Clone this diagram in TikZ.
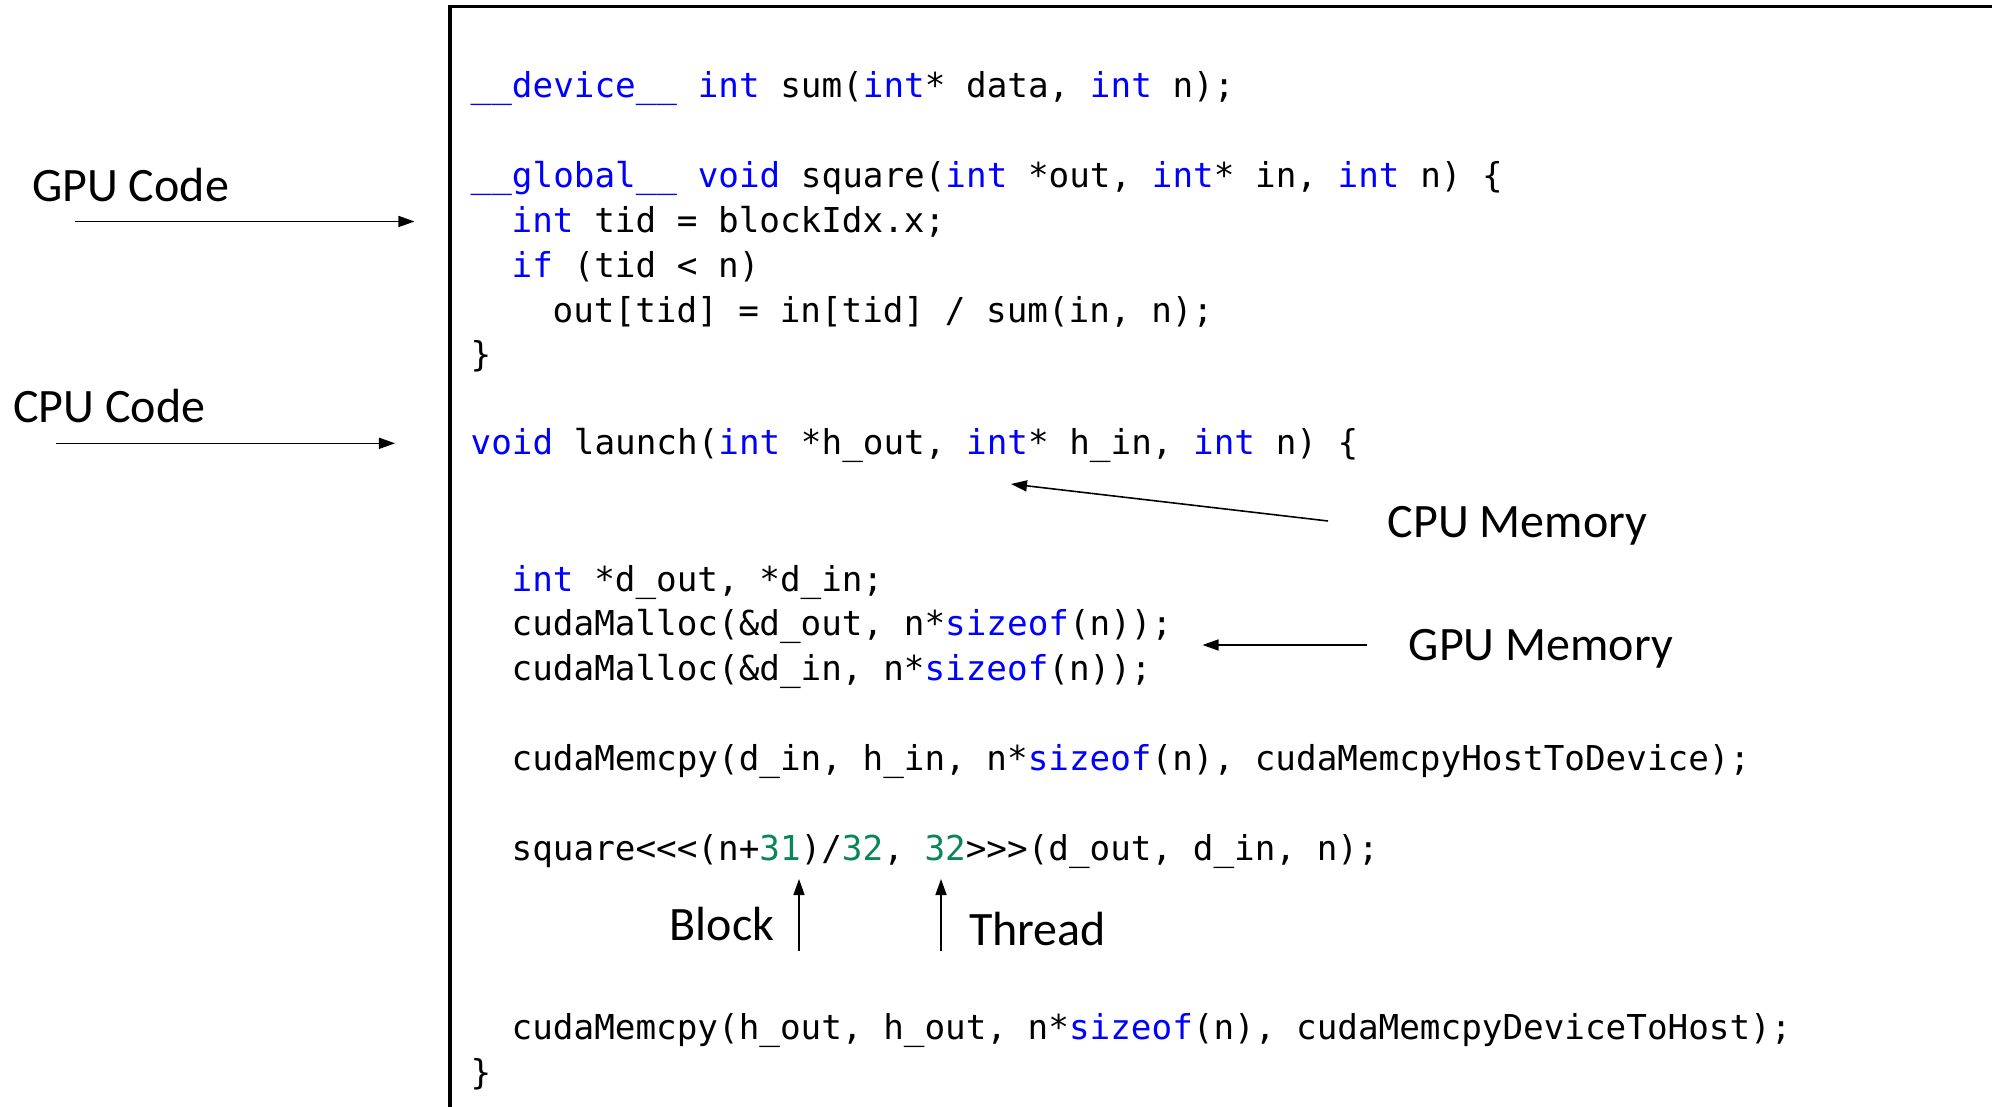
\documentclass[tikz,border=0pt]{standalone}
\usepackage{fontspec}
\setmainfont{Carlito}
\setmonofont{DejaVu Sans Mono}
\usetikzlibrary{arrows.meta}
\definecolor{kwblue}{RGB}{0,0,255}
\definecolor{litgreen}{RGB}{9,134,88}
\newcommand{\kwd}[1]{\textcolor{kwblue}{#1}}
\newcommand{\lit}[1]{\textcolor{litgreen}{#1}}

\begin{document}
\begin{tikzpicture}[
    x=0.01cm, y=-0.01cm,
    codeline/.style={anchor=base west, inner sep=0pt, font=\fontsize{9.75}{11}\selectfont\ttfamily},
    note/.style={anchor=base west, inner sep=0pt, font=\fontsize{13.65}{16}\selectfont},
    arrow/.style={-{Triangle[length=1.6mm, width=1.1mm]}, line width=0.45pt},
    codeframe/.style={line width=0.9pt}
]
\useasboundingbox (0,0) rectangle (1992,1107);

% Code frame
\draw[codeframe] (450,1107) -- (450,6.5) -- (1992,6.5);

% Kernel code
\node[codeline] (dev) at (470,97.8) {\kwd{\_\_device\_\_} \kwd{int} sum(\kwd{int}* data, \kwd{int} n);};
\node[codeline] (glob) at (470,187.5) {\kwd{\_\_global\_\_} \kwd{void} square(\kwd{int} *out, \kwd{int}* in, \kwd{int} n) \{};
\node[codeline] (tid) at (511,232.4) {\kwd{int} tid = blockIdx.x;};
\node[codeline] (cond) at (511,277.2) {\kwd{if} (tid < n)};
\node[codeline] (assign) at (552,322.1) {out[tid] = in[tid] / sum(in, n);};
\node[codeline] (globend) at (470,366.9) {\}};

% Host code
\node[codeline] (launch) at (470,455) {\kwd{void} launch(\kwd{int} *h\_out, \kwd{int}* h\_in, \kwd{int} n) \{};
\node[codeline] (decl) at (511,591.2) {\kwd{int} *d\_out, *d\_in;};
\node[codeline] (mallocout) at (511,636) {cudaMalloc(\&d\_out, n*\kwd{sizeof}(n));};
\node[codeline] (mallocin) at (511,680.9) {cudaMalloc(\&d\_in, n*\kwd{sizeof}(n));};
\node[codeline] (cpyin) at (511,770.6) {cudaMemcpy(d\_in, h\_in, n*\kwd{sizeof}(n), cudaMemcpyHostToDevice);};
\node[codeline] (kcall) at (511,860.3) {square<{}<{}<(n+\lit{31})/\lit{32}, \lit{32}>{}>{}>(d\_out, d\_in, n);};
\node[codeline] (cpyout) at (511,1039.7) {cudaMemcpy(h\_out, h\_out, n*\kwd{sizeof}(n), cudaMemcpyDeviceToHost);};
\node[codeline] (launchend) at (470,1084.5) {\}};

% Notes
\node[note] (gpucode) at (31.5,201.7) {GPU Code};
\node[note] (cpucode) at (12.5,422.7) {CPU Code};
\node[note] (cpumem) at (1387,538) {CPU Memory};
\node[note] (gpumem) at (1408,660) {GPU Memory};
\node[note] (block) at (669,940) {Block};
\node[note] (thread) at (968.5,945.7) {Thread};

% Arrow ends
\coordinate (gpucodeA) at (75,221.5);
\coordinate (gpucodeB) at (414.5,221.5);
\coordinate (cpucodeA) at (56,443.3);
\coordinate (cpucodeB) at (395,443.3);
\coordinate (cpumemA) at (1328,521);
\coordinate (cpumemB) at (1011,484);
\coordinate (gpumemA) at (1367,645);
\coordinate (gpumemB) at (1202.5,645);
\coordinate (blockA) at (799,951);
\coordinate (blockB) at (799,879);
\coordinate (threadA) at (941,951);
\coordinate (threadB) at (941,879);

% Arrows
\draw[arrow] (gpucodeA) -- (gpucodeB);
\draw[arrow] (cpucodeA) -- (cpucodeB);
\draw[arrow] (cpumemA) -- (cpumemB);
\draw[arrow] (gpumemA) -- (gpumemB);
\draw[arrow] (blockA) -- (blockB);
\draw[arrow] (threadA) -- (threadB);

\end{tikzpicture}
\end{document}
